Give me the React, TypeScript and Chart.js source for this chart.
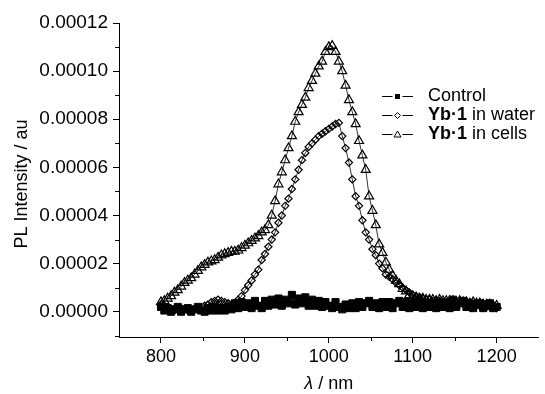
import React, { useEffect, useRef } from 'react';
import { Chart, registerables } from 'chart.js';

Chart.register(...registerables);

// wavelength (nm)
const wavelengths = [
  800, 804, 808, 812, 816, 820, 824, 828, 832, 836,
  840, 844, 848, 852, 856, 860, 864, 868, 872, 876,
  880, 884, 888, 892, 896, 900, 904, 908, 912, 916,
  920, 924, 928, 932, 936, 940, 944, 948, 952, 956,
  960, 964, 968, 972, 976, 980, 984, 988, 992, 996,
  1000, 1004, 1008, 1012, 1016, 1020, 1024, 1028, 1032, 1036,
  1040, 1044, 1048, 1052, 1056, 1060, 1064, 1068, 1072, 1076,
  1080, 1084, 1088, 1092, 1096, 1100, 1104, 1108, 1112, 1116,
  1120, 1124, 1128, 1132, 1136, 1140, 1144, 1148, 1152, 1156,
  1160, 1164, 1168, 1172, 1176, 1180, 1184, 1188, 1192, 1196,
  1200,
];

// PL intensity, in units of 1e-6 au
const controlValues = [
  2, 0.5, 1.5, 0, 1, 2, 0, 1, 1.5, 0,
  1, 2, 0.5, 0, 1.5, 0.5, 2, 0.5, 1.5, 0.5,
  2, 1, 3.5, 1.5, 4, 2, 3.5, 1.5, 4.5, 2.5,
  1.5, 4.5, 2.5, 5, 3, 5.5, 2.5, 5, 3.5, 7,
  3, 5.5, 3.5, 6, 2.5, 5, 2.5, 4.5, 2, 4,
  2.5, 1.5, 4, 2, 1, 3, 1.5, 3.5, 1.5, 4,
  2, 3.5, 4.5, 2, 3.5, 1.5, 4, 2, 4, 1.5,
  3.5, 4.5, 2, 4, 1.5, 3.5, 2, 4, 1.5, 3.5,
  2, 3.5, 1.5, 4, 2, 3.5, 1.5, 5, 2, 3.5,
  4.5, 2, 3.5, 1.5, 3, 3.5, 1.5, 3, 3.5, 1.5,
  2,
];

const waterValues = [
  3, 2.5, 1.5, 1, 0.5, 1, 1.5, 1, 0.5, 0.5,
  1, 1.5, 2, 2.5, 3, 4, 4.5, 5, 4.5, 4,
  3.5, 3, 3.5, 5, 6.5, 9, 11, 13, 15.5, 17.5,
  21.5, 24, 27, 30, 33, 37, 40, 44, 47, 51,
  55, 59, 63, 66, 68.5, 70, 71.5, 73, 74, 75,
  76, 77, 78, 78.5, 73, 68, 62, 55, 48, 44,
  38, 33, 30, 26, 23.5, 20, 18, 15.5, 14.5, 13.5,
  12, 11, 10, 9, 8, 7, 6.5, 6, 5.5, 5,
  5, 4.5, 4.5, 4.5, 4, 4, 4, 3.5, 3.5, 3.5,
  3.5, 3, 3, 3, 2.5, 2.5, 2.5, 2, 2, 2,
  1.5,
];

const cellsValues = [
  4, 4.5, 5.5, 6.5, 8, 9, 10.5, 12, 13, 14,
  15.5, 17, 18.5, 19.5, 20.5, 21, 21.5, 22.5, 23.5, 24,
  24.5, 25, 25, 25.5, 26.5, 27.5, 28.5, 29.5, 30.5, 31.5,
  33, 34, 36, 40, 46, 53, 58, 63, 68, 73,
  79, 83, 86, 89, 93, 96, 99, 102, 104, 108,
  110, 110.5, 108, 104, 100, 94, 88, 83, 78, 71,
  65, 59, 48, 42, 36, 28, 24.5, 20.5, 17.5, 15,
  13, 11.5, 9.5, 8.5, 7, 6.5, 6, 5.5, 5.5, 5,
  5, 5, 4.5, 5, 4.5, 4.5, 4.5, 4.5, 4, 4.5,
  4, 4, 3.5, 4, 3.5, 3.5, 3, 3, 3, 2.5,
  2.5,
];

const seriesNames = ['Control', 'Yb\u00b71 in water', 'Yb\u00b71 in cells'];

const xTickValues = [800, 900, 1000, 1100, 1200];
const xMinorTickValues = [850, 950, 1050, 1150];
const yTickValues = [0, 20, 40, 60, 80, 100, 120];
const yTickLabels = ['0.00000', '0.00002', '0.00004', '0.00006', '0.00008', '0.00010', '0.00012'];
const yMinorTickValues = [-10, 10, 30, 50, 70, 90, 110];

const FONT = "'Liberation Sans', Arial, Helvetica, sans-serif";

const overlayPlugin = {
  id: 'overlay',
  afterDraw(chart: any) {
    const { ctx, chartArea, scales } = chart;
    const xs = scales.x;
    const ys = scales.y;
    ctx.save();
    ctx.strokeStyle = '#000';
    ctx.fillStyle = '#000';
    ctx.lineWidth = 1;

    // minor ticks
    for (const v of xMinorTickValues) {
      const px = Math.round(xs.getPixelForValue(v)) + 0.5;
      ctx.beginPath();
      ctx.moveTo(px, chartArea.bottom);
      ctx.lineTo(px, chartArea.bottom + 4);
      ctx.stroke();
    }
    for (const v of yMinorTickValues) {
      const py = Math.round(ys.getPixelForValue(v)) + 0.5;
      ctx.beginPath();
      ctx.moveTo(chartArea.left, py);
      ctx.lineTo(chartArea.left - 4, py);
      ctx.stroke();
    }

    // y title
    ctx.save();
    ctx.translate(22, (chartArea.top + chartArea.bottom) / 2 + 4);
    ctx.rotate(-Math.PI / 2);
    ctx.font = `18px ${FONT}`;
    ctx.textAlign = 'center';
    ctx.textBaseline = 'middle';
    ctx.fillText('PL Intensity / au', 0, 0);
    ctx.restore();

    // x title: italic lambda
    ctx.textBaseline = 'middle';
    ctx.textAlign = 'left';
    const lam = '\u03bb';
    const rest = ' / nm';
    ctx.font = `italic 18px ${FONT}`;
    const w1 = ctx.measureText(lam).width;
    ctx.font = `18px ${FONT}`;
    const w2 = ctx.measureText(rest).width;
    const cx = (chartArea.left + chartArea.right) / 2;
    const sx = cx - (w1 + w2) / 2;
    ctx.font = `italic 18px ${FONT}`;
    ctx.fillText(lam, sx, 384);
    ctx.font = `18px ${FONT}`;
    ctx.fillText(rest, sx + w1, 384);

    // legend
    const rowsY = [96, 115, 134];
    const lx0 = 382;
    const lx1 = 413;
    const mx = 397.5;
    const tx = 428;
    rowsY.forEach((y, i) => {
      ctx.lineWidth = 1;
      ctx.strokeStyle = '#000';
      ctx.beginPath();
      ctx.moveTo(lx0, y + 0.5);
      ctx.lineTo(mx - 5, y + 0.5);
      ctx.moveTo(mx + 5, y + 0.5);
      ctx.lineTo(lx1, y + 0.5);
      ctx.stroke();
      ctx.beginPath();
      if (i === 0) {
        ctx.fillRect(mx - 2.5, y - 2, 5, 5);
      } else if (i === 1) {
        ctx.moveTo(mx, y - 2.5);
        ctx.lineTo(mx + 3, y + 0.5);
        ctx.lineTo(mx, y + 3.5);
        ctx.lineTo(mx - 3, y + 0.5);
        ctx.closePath();
        ctx.stroke();
      } else {
        ctx.moveTo(mx, y - 3);
        ctx.lineTo(mx + 3.5, y + 3);
        ctx.lineTo(mx - 3.5, y + 3);
        ctx.closePath();
        ctx.stroke();
      }
      ctx.textBaseline = 'middle';
      ctx.textAlign = 'left';
      const name = seriesNames[i];
      if (i === 0) {
        ctx.font = `18px ${FONT}`;
        ctx.fillText(name, tx, y);
      } else {
        const boldPart = name.slice(0, 4);
        const normalPart = name.slice(4);
        ctx.font = `bold 18px ${FONT}`;
        ctx.fillText(boldPart, tx, y);
        const bw = ctx.measureText(boldPart).width;
        ctx.font = `18px ${FONT}`;
        ctx.fillText(normalPart, tx + bw, y);
      }
    });

    ctx.restore();
  },
};

export default function App() {
  const canvasRef = useRef<HTMLCanvasElement | null>(null);

  useEffect(() => {
    const canvas = canvasRef.current;
    if (!canvas) return;
    const toPoints = (vals: number[]) => wavelengths.map((x, i) => ({ x, y: vals[i] }));

    const chart = new Chart(canvas, {
      type: 'scatter',
      data: {
        datasets: [
          {
            label: seriesNames[0],
            data: toPoints(controlValues),
            showLine: true,
            borderColor: '#000',
            borderWidth: 2.5,
            pointStyle: 'rect',
            pointRadius: 5,
            pointBackgroundColor: '#000',
            pointBorderColor: '#000',
            pointBorderWidth: 1,
          },
          {
            label: seriesNames[1],
            data: toPoints(waterValues),
            showLine: true,
            borderColor: '#000',
            borderWidth: 0.8,
            pointStyle: 'rectRot',
            pointRadius: 3.6,
            pointBackgroundColor: 'rgba(255,255,255,0)',
            pointBorderColor: '#000',
            pointBorderWidth: 1.2,
          },
          {
            label: seriesNames[2],
            data: toPoints(cellsValues),
            showLine: true,
            borderColor: '#000',
            borderWidth: 0.8,
            pointStyle: 'triangle',
            pointRadius: 5.2,
            pointBackgroundColor: 'rgba(255,255,255,0)',
            pointBorderColor: '#000',
            pointBorderWidth: 1.2,
          },
        ],
      },
      options: {
        animation: false,
        responsive: false,
        maintainAspectRatio: false,
        layout: { padding: { top: 23, right: 1, left: 0, bottom: 0 } },
        plugins: {
          legend: { display: false },
          tooltip: { enabled: false },
        },
        scales: {
          x: {
            type: 'linear',
            min: 750,
            max: 1250,
            afterBuildTicks: (scale: any) => {
              scale.ticks = xTickValues.map((v) => ({ value: v }));
            },
            afterFit: (scale: any) => {
              scale.height = 57;
            },
            ticks: {
              color: '#000',
              font: { family: FONT, size: 18 },
              padding: 3,
              maxRotation: 0,
              autoSkip: false,
              callback: (v: any) => String(v),
            },
            grid: {
              display: true,
              drawOnChartArea: false,
              drawTicks: true,
              tickLength: 6,
              color: '#000',
              lineWidth: 1,
            },
            border: { display: true, color: '#000', width: 1 },
            title: { display: false },
          },
          y: {
            type: 'linear',
            min: -10.5,
            max: 120,
            afterBuildTicks: (scale: any) => {
              scale.ticks = yTickValues.map((v) => ({ value: v }));
            },
            afterFit: (scale: any) => {
              scale.width = 119;
            },
            ticks: {
              color: '#000',
              font: { family: FONT, size: 19 },
              padding: 5,
              autoSkip: false,
              callback: (v: any) => {
                const idx = yTickValues.indexOf(Number(v));
                return idx >= 0 ? yTickLabels[idx] : '';
              },
            },
            grid: {
              display: true,
              drawOnChartArea: false,
              drawTicks: true,
              tickLength: 6,
              color: '#000',
              lineWidth: 1,
            },
            border: { display: true, color: '#000', width: 1 },
            title: { display: false },
          },
        },
      },
      plugins: [overlayPlugin],
    } as any);

    return () => {
      chart.destroy();
    };
  }, []);

  return (
    <div style={{ position: 'fixed', left: 0, top: 0, width: 545, height: 394, background: '#fff' }}>
      <canvas ref={canvasRef} width={545} height={394} style={{ width: 545, height: 394, display: 'block' }} />
    </div>
  );
}
